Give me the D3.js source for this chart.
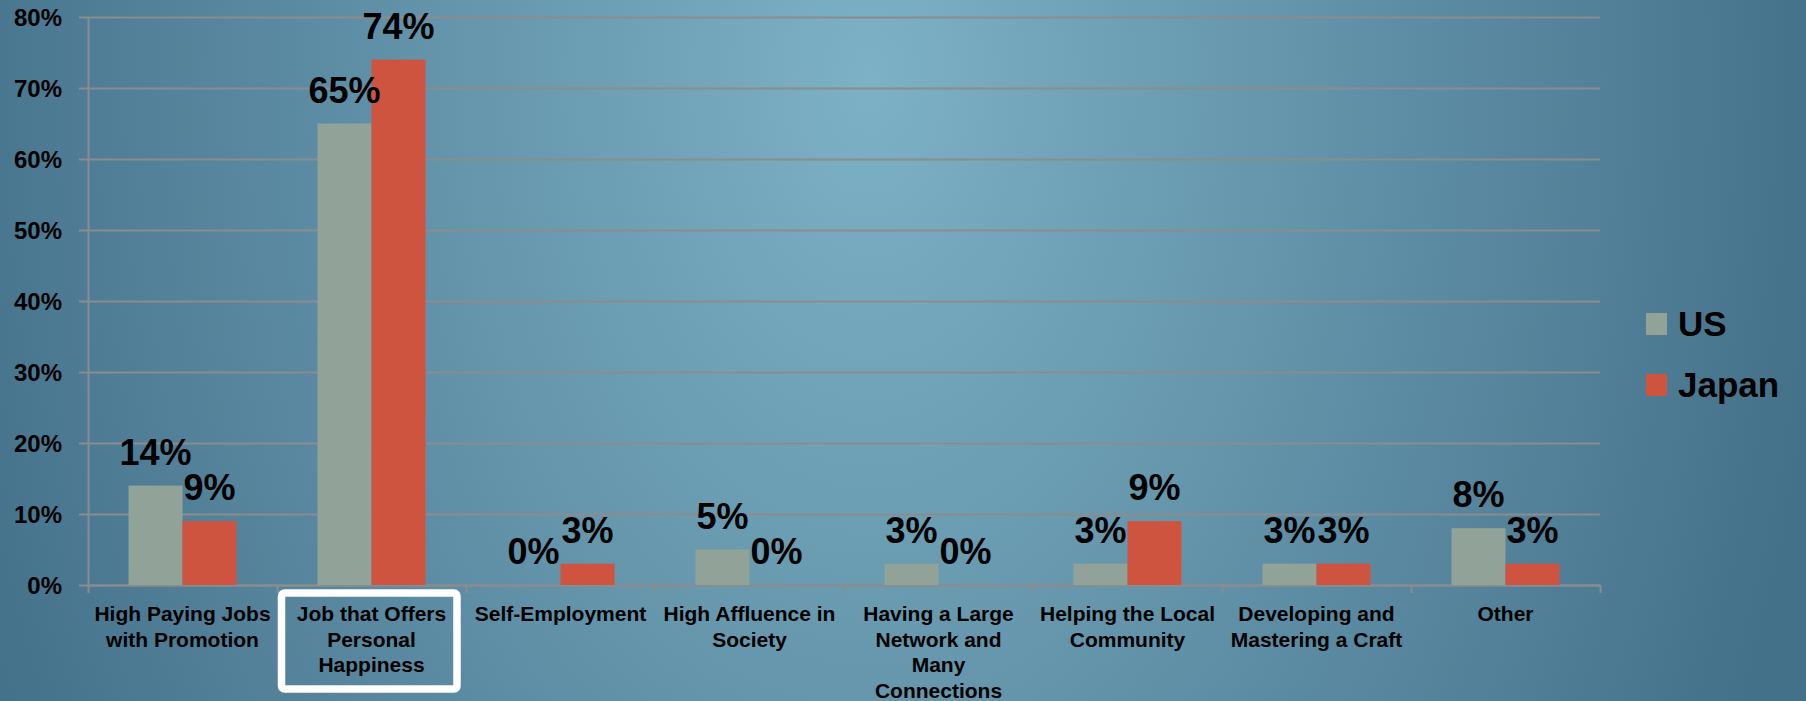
<!DOCTYPE html>
<html>
<head>
<meta charset="utf-8">
<script src="https://cdn.jsdelivr.net/npm/d3@7"></script>
<style>
  html, body { margin: 0; padding: 0; overflow: hidden; }
  svg { display: block; }
  text { font-family: "Liberation Sans", Arial, sans-serif; font-weight: bold; fill: #000; }
</style>
</head>
<body>
<svg id="chart" width="1806" height="701"></svg>
<script>
// Career goals survey: share of respondents by what they want most from work
const categories = [
  "High Paying Jobs\nwith Promotion",
  "Job that Offers\nPersonal\nHappiness",
  "Self-Employment",
  "High Affluence in\nSociety",
  "Having a Large\nNetwork and\nMany\nConnections",
  "Helping the Local\nCommunity",
  "Developing and\nMastering a Craft",
  "Other"
];
const seriesNames = ["US", "Japan"];
const usValues = [14, 65, 0, 5, 3, 3, 3, 8];
const japanValues = [9, 74, 3, 0, 0, 9, 3, 3];
const yTicks = [0, 10, 20, 30, 40, 50, 60, 70, 80];
const highlightedCategory = 1;

const colors = { US: "#91a398", Japan: "#cf543f" };
const gridColor = "#8a8c8d";

const W = 1806, H = 701;
const plot = { left: 88, right: 1600, top: 17, bottom: 585 };

const svg = d3.select("#chart");

// Background: soft light area around the upper centre, darker toward the sides
const defs = svg.append("defs");
const grad = defs.append("radialGradient")
  .attr("id", "bg").attr("gradientUnits", "userSpaceOnUse")
  .attr("cx", 870).attr("cy", 80).attr("r", 960)
  .attr("gradientTransform", "translate(870,80) scale(1,1.55) translate(-870,-80)");
grad.append("stop").attr("offset", "0%").attr("stop-color", "#7db1c5");
grad.append("stop").attr("offset", "100%").attr("stop-color", "#44718a");
svg.append("rect").attr("width", W).attr("height", H).attr("fill", "url(#bg)");

// Scales
const y = d3.scaleLinear().domain([0, 80]).range([plot.bottom, plot.top]);
const x0 = d3.scaleBand().domain(d3.range(categories.length))
  .range([plot.left, plot.right]).paddingInner(0.4286).paddingOuter(0.2143);
const x1 = d3.scaleBand().domain(seriesNames).range([0, x0.bandwidth()]);
const xEdge = d3.scaleLinear().domain([0, categories.length]).range([plot.left, plot.right]);

// Y axis with gridlines
const yAxis = svg.append("g").attr("transform", `translate(${plot.left},0)`)
  .call(d3.axisLeft(y).tickValues(yTicks).tickFormat(d => d + "%").tickSizeOuter(0));
yAxis.select(".domain").attr("stroke", gridColor).attr("stroke-width", 2);
yAxis.selectAll(".tick line")
  .attr("x1", -9).attr("x2", plot.right - plot.left)
  .attr("stroke", gridColor).attr("stroke-width", 2);
yAxis.selectAll(".tick text")
  .attr("x", -26).attr("dy", "0.36em")
  .style("font-size", "24px").attr("fill", "#000");

// X axis: baseline with category boundary ticks
const xAxis = svg.append("g").attr("transform", `translate(0,${plot.bottom})`)
  .call(d3.axisBottom(xEdge).tickValues(d3.range(categories.length + 1))
    .tickFormat("").tickSize(8).tickSizeOuter(0));
xAxis.select(".domain").attr("stroke", gridColor).attr("stroke-width", 2);
xAxis.selectAll(".tick line").attr("stroke", gridColor).attr("stroke-width", 2);

// Bars
const rows = categories.map((c, i) => ({
  i,
  values: [{ key: "US", v: usValues[i] }, { key: "Japan", v: japanValues[i] }]
}));
const groups = svg.append("g").selectAll("g").data(rows).join("g")
  .attr("transform", d => `translate(${x0(d.i)},0)`);
groups.selectAll("rect").data(d => d.values).join("rect")
  .attr("x", d => x1(d.key))
  .attr("y", d => y(d.v))
  .attr("width", x1.bandwidth())
  .attr("height", d => y(0) - y(d.v))
  .attr("fill", d => colors[d.key]);

// Value labels above each bar
groups.selectAll("text").data(d => d.values).join("text")
  .attr("x", d => x1(d.key) + x1.bandwidth() / 2)
  .attr("y", d => y(d.v) - 21)
  .attr("text-anchor", "middle")
  .style("font-size", "36px")
  .text(d => d.v + "%");

// Category labels
const catLabels = svg.append("g").selectAll("text").data(categories).join("text")
  .attr("x", (d, i) => x0(i) + x0.bandwidth() / 2)
  .attr("y", 621)
  .attr("text-anchor", "middle")
  .style("font-size", "21px");
catLabels.each(function (d) {
  const t = d3.select(this);
  d.split("\n").forEach((line, k) => {
    t.append("tspan")
      .attr("x", t.attr("x"))
      .attr("dy", k === 0 ? 0 : 25.5)
      .text(line);
  });
});

// Highlight frame around one category label
svg.append("rect")
  .attr("x", xEdge(highlightedCategory) + 4.5)
  .attr("y", 593)
  .attr("width", xEdge(highlightedCategory + 1) - xEdge(highlightedCategory) - 13.5)
  .attr("height", 96)
  .attr("rx", 3)
  .attr("fill", "none")
  .attr("stroke", "#fff")
  .attr("stroke-width", 7.5);

// Legend
const legend = svg.append("g").selectAll("g").data(seriesNames).join("g")
  .attr("transform", (d, i) => `translate(1646,${313 + i * 61})`);
legend.append("rect").attr("width", 21).attr("height", 22).attr("fill", d => colors[d]);
legend.append("text").attr("x", 32).attr("y", 23)
  .style("font-size", "35px").text(d => d);
</script>
</body>
</html>
